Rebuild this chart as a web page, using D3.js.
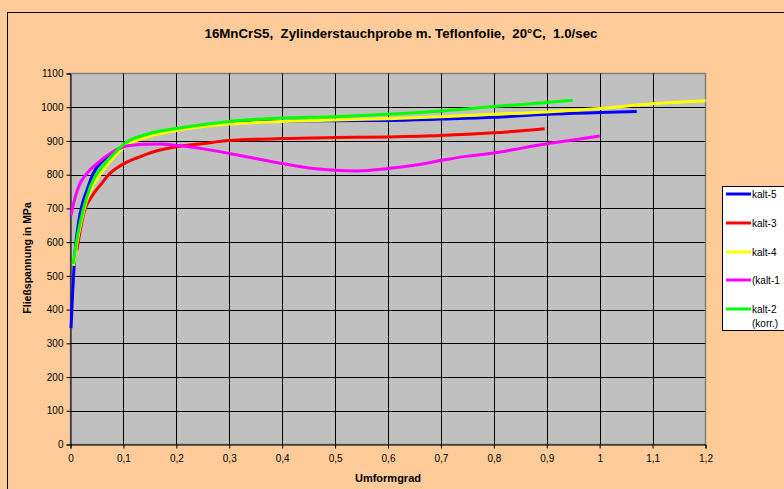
<!DOCTYPE html>
<html>
<head>
<meta charset="utf-8">
<script src="https://cdn.jsdelivr.net/npm/d3@7"></script>
<style>
  body { margin: 0; background: #FFCC99; }
  svg { display: block; font-family: Arial, "Liberation Sans", sans-serif; }
</style>
</head>
<body>
<svg></svg>
<script>
// values
let xTicks = [0, 0.1, 0.2, 0.3, 0.4, 0.5, 0.6, 0.7, 0.8, 0.9, 1.0, 1.1, 1.2]
let yTicks = [0, 100, 200, 300, 400, 500, 600, 700, 800, 900, 1000, 1100]

let names = ['kalt-5', 'kalt-3', 'kalt-4', '(kalt-1', 'kalt-2']
let colors = ['#0000FF', '#FF0000', '#FFFF00', '#FF00FF', '#00FF00']

let kalt5X = [0.001, 0.004, 0.006, 0.009, 0.015, 0.021, 0.031, 0.043, 0.062, 0.08, 0.1, 0.15, 0.2, 0.3, 0.4, 0.5, 0.6, 0.7, 0.8, 0.9, 1.0, 1.07]
let kalt5Y = [345, 450, 507, 576, 656, 705, 754, 804, 843, 865, 885, 915, 933, 952, 958, 960, 961, 965, 970, 979, 984, 987]

let kalt3X = [0.012, 0.025, 0.042, 0.059, 0.072, 0.087, 0.1, 0.131, 0.169, 0.2, 0.245, 0.3, 0.4, 0.5, 0.6, 0.7, 0.8, 0.896]
let kalt3Y = [576, 685, 740, 774, 800, 819, 832, 853, 873, 883, 891, 901, 907, 910, 912, 916, 924, 936]

let kalt4X = [0.006, 0.012, 0.02, 0.03, 0.045, 0.065, 0.085, 0.1, 0.15, 0.2, 0.3, 0.4, 0.5, 0.6, 0.7, 0.8, 0.9, 1.0, 1.1, 1.2]
let kalt4Y = [530, 595, 660, 722, 775, 820, 857, 880, 914, 931, 950, 958, 962, 966, 972, 979, 986, 996, 1010, 1019]

let kalt1X = [0.001, 0.009, 0.018, 0.031, 0.05, 0.075, 0.106, 0.14, 0.169, 0.2, 0.245, 0.3, 0.35, 0.4, 0.45, 0.5, 0.54, 0.6, 0.65, 0.7, 0.75, 0.8, 0.85, 0.9, 0.95, 1.0]
let kalt1Y = [680, 734, 774, 804, 833, 863, 885, 890, 891, 887, 878, 863, 848, 833, 820, 813, 811, 818, 828, 842, 855, 864, 878, 892, 903, 915]

let kalt2X = [0.005, 0.012, 0.018, 0.031, 0.043, 0.062, 0.081, 0.1, 0.15, 0.2, 0.3, 0.4, 0.5, 0.6, 0.7, 0.8, 0.9, 0.949]
let kalt2Y = [535, 606, 656, 735, 784, 828, 860, 890, 922, 937, 958, 968, 972, 979, 989, 1002, 1014, 1021]

let seriesX = [kalt5X, kalt3X, kalt4X, kalt1X, kalt2X]
let seriesY = [kalt5Y, kalt3Y, kalt4Y, kalt1Y, kalt2Y]

let width = 784
let height = 489
let plotLeft = 70.5
let plotRight = 705.5
let plotTop = 73.5
let plotBottom = 444.5

let svg = d3.select('svg')
svg.attr('width', width).attr('height', height)

let xScale = d3.scaleLinear().domain([0, 1.2]).range([plotLeft, plotRight])
let yScale = d3.scaleLinear().domain([0, 1100]).range([plotBottom, plotTop])

// outer chart frame (runs off the right and bottom edge)
svg.append('rect')
    .attr('x', 7.5).attr('y', 12.5)
    .attr('width', 800).attr('height', 500)
    .attr('fill', '#FFCC99').attr('stroke', '#000').attr('stroke-width', 1)

svg.append('text')
    .attr('x', 401).attr('y', 38)
    .attr('text-anchor', 'middle')
    .style('font-size', '13.3px').style('font-weight', 'bold')
    .style('white-space', 'pre')
    .text('16MnCrS5,  Zylinderstauchprobe m. Teflonfolie,  20°C,  1.0/sec')

// plot area
svg.append('rect')
    .attr('x', plotLeft).attr('y', plotTop)
    .attr('width', plotRight - plotLeft).attr('height', plotBottom - plotTop)
    .attr('fill', '#C0C0C0').attr('stroke', '#808080').attr('stroke-width', 1.5)

let grid = svg.append('g')
grid.selectAll('.hgrid')
    .data(yTicks.slice(1, -1))
    .enter()
    .append('line')
    .attr('x1', plotLeft).attr('x2', plotRight)
    .attr('y1', (d) => Math.round(yScale(d)) + 0.5)
    .attr('y2', (d) => Math.round(yScale(d)) + 0.5)
    .attr('stroke', '#000')
grid.selectAll('.vgrid')
    .data(xTicks.slice(1, -1))
    .enter()
    .append('line')
    .attr('y1', plotTop).attr('y2', plotBottom)
    .attr('x1', (d) => Math.round(xScale(d)) + 0.5)
    .attr('x2', (d) => Math.round(xScale(d)) + 0.5)
    .attr('stroke', '#000')

let xAxis = d3.axisBottom(xScale)
    .tickValues(xTicks)
    .tickSize(4)
    .tickPadding(6)
    .tickFormat((d) => d3.format('~g')(d).replace('.', ','))
let yAxis = d3.axisLeft(yScale)
    .tickValues(yTicks)
    .tickSize(4)
    .tickPadding(3)
    .tickFormat(d3.format('d'))

let gx = svg.append('g')
    .attr('transform', 'translate(0,' + plotBottom + ')')
    .call(xAxis)
let gy = svg.append('g')
    .attr('transform', 'translate(' + plotLeft + ',0)')
    .call(yAxis)

gx.selectAll('text').style('font-size', '10px').attr('fill', '#000')
gy.selectAll('text').style('font-size', '10px').attr('fill', '#000')
gx.selectAll('line').attr('stroke', '#000')
gy.selectAll('line').attr('stroke', '#000')
gx.select('.domain').attr('stroke', '#000')
gy.select('.domain').attr('stroke', '#000')

svg.append('text')
    .attr('x', 388).attr('y', 482)
    .attr('text-anchor', 'middle')
    .style('font-size', '11px').style('font-weight', 'bold')
    .text('Umformgrad')

svg.append('text')
    .attr('transform', 'translate(31,258) rotate(-90)')
    .attr('text-anchor', 'middle')
    .style('font-size', '10.5px').style('font-weight', 'bold')
    .text('Fließspannung in MPa')

// curves
let line = d3.line()
    .x((d) => xScale(d[0]))
    .y((d) => yScale(d[1]))
    .curve(d3.curveMonotoneX)

let curves = svg.append('g')
seriesX.forEach((xs, i) => {
    let pts = xs.map((x, j) => [x, seriesY[i][j]])
    curves.append('path')
        .datum(pts)
        .attr('d', line)
        .attr('fill', 'none')
        .attr('stroke', colors[i])
        .attr('stroke-width', 3)
        .attr('stroke-linejoin', 'round')
})

// legend
let legend = svg.append('g')
legend.append('rect')
    .attr('x', 722.5).attr('y', 186.5)
    .attr('width', 80).attr('height', 144)
    .attr('fill', '#fff').attr('stroke', '#000')

let legendY = [194, 223, 252, 280, 309]
names.forEach((n, i) => {
    legend.append('line')
        .attr('x1', 726).attr('x2', 751)
        .attr('y1', legendY[i]).attr('y2', legendY[i])
        .attr('stroke', colors[i]).attr('stroke-width', 3)
    legend.append('text')
        .attr('x', 752).attr('y', legendY[i] + 3.5)
        .style('font-size', '10px')
        .text(n)
})
legend.append('text')
    .attr('x', 752).attr('y', 326.5)
    .style('font-size', '10px')
    .text('(korr.)')
</script>
</body>
</html>
